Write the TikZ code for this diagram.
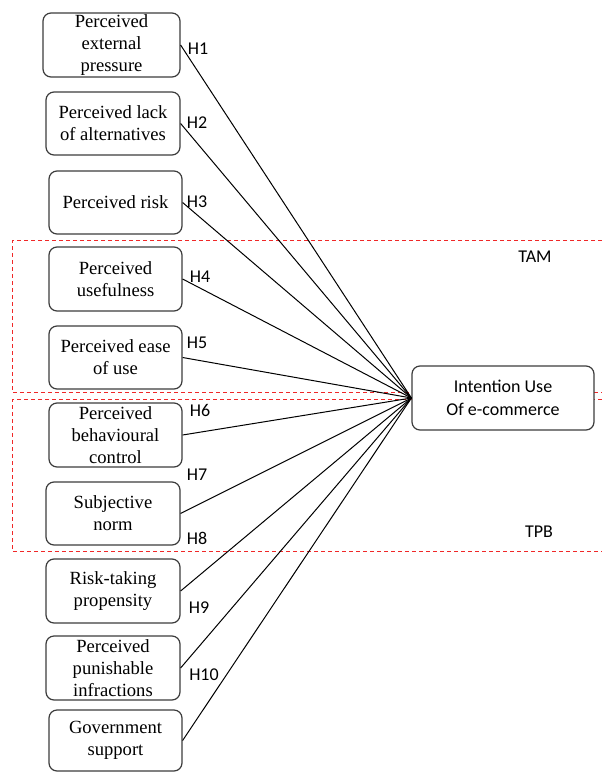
\documentclass[tikz,border=0pt]{standalone}
\usepackage{fontspec}
\setmainfont{Liberation Serif}
\newfontfamily\lblfont{Carlito}
\definecolor{dashred}{RGB}{240,40,40}
\definecolor{boxline}{RGB}{60,60,60}
\begin{document}
\begin{tikzpicture}[x=1pt,y=-1pt,
  box/.style={draw=boxline, fill=white, line width=1.2pt, rounded corners=8pt, align=center, inner sep=0pt,
    font=\fontsize{18.6}{22}\selectfont},
  lbl/.style={font=\lblfont\fontsize{18}{22}\selectfont, inner sep=0pt},
  conn/.style={draw=black, line width=1pt},
  grp/.style={draw=dashred, line width=1.2pt, dash pattern=on 4pt off 3pt}]
\useasboundingbox (0,0) rectangle (602,772);
% group frames
\draw[grp] (602,240.5) -- (12.5,240.5) -- (12.5,392.5) -- (602,392.5);
\draw[grp] (602,399.5) -- (12.5,399.5) -- (12.5,551.5) -- (602,551.5);
\node[lbl] (tam) at (535,257) {TAM};
\node[lbl] (tpb) at (539,532) {TPB};
% boxes
\node[box, minimum width=137pt, minimum height=64pt] (b1) at (111.5,45) {Perceived\\external\\pressure};
\node[box, minimum width=134pt, minimum height=63pt] (b2) at (113,123.5) {Perceived lack\\of alternatives};
\node[box, minimum width=133pt, minimum height=63pt] (b3) at (115.5,202.5) {Perceived risk};
\node[box, minimum width=133pt, minimum height=64pt] (b4) at (115.5,279) {Perceived\\usefulness};
\node[box, minimum width=133pt, minimum height=63pt] (b5) at (115.5,357.5) {Perceived ease\\of use};
\node[box, minimum width=133pt, minimum height=64pt] (b6) at (115.5,435) {Perceived\\behavioural\\control};
\node[box, minimum width=134pt, minimum height=63pt] (b7) at (113,513.5) {Subjective\\norm};
\node[box, minimum width=134pt, minimum height=64pt] (b8) at (113,591) {Risk-taking\\propensity};
\node[box, minimum width=134pt, minimum height=64pt] (b9) at (113,668) {Perceived\\punishable\\infractions};
\node[box, minimum width=133pt, minimum height=61pt] (b10) at (115.5,740.5) {Government\\support};
\node[box, minimum width=182pt, minimum height=64pt, font=\lblfont\fontsize{18}{23}\selectfont] (iu) at (503,398) {Intention Use\\Of e-commerce};
% connectors
\foreach \b in {b1,b2,b3,b4,b5,b6,b7,b8,b9,b10}{
  \draw[conn] (\b.east) -- (iu.west);
}
% labels
\node[lbl] (h1) at (198,49) {H1};
\node[lbl] (h2) at (197,123) {H2};
\node[lbl] (h3) at (197,202) {H3};
\node[lbl] (h4) at (200,277) {H4};
\node[lbl] (h5) at (197,343) {H5};
\node[lbl] (h6) at (200,410) {H6};
\node[lbl] (h7) at (197,475) {H7};
\node[lbl] (h8) at (197,538) {H8};
\node[lbl] (h9) at (199,608) {H9};
\node[lbl] (h10) at (204,675) {H10};
\end{tikzpicture}
\end{document}
